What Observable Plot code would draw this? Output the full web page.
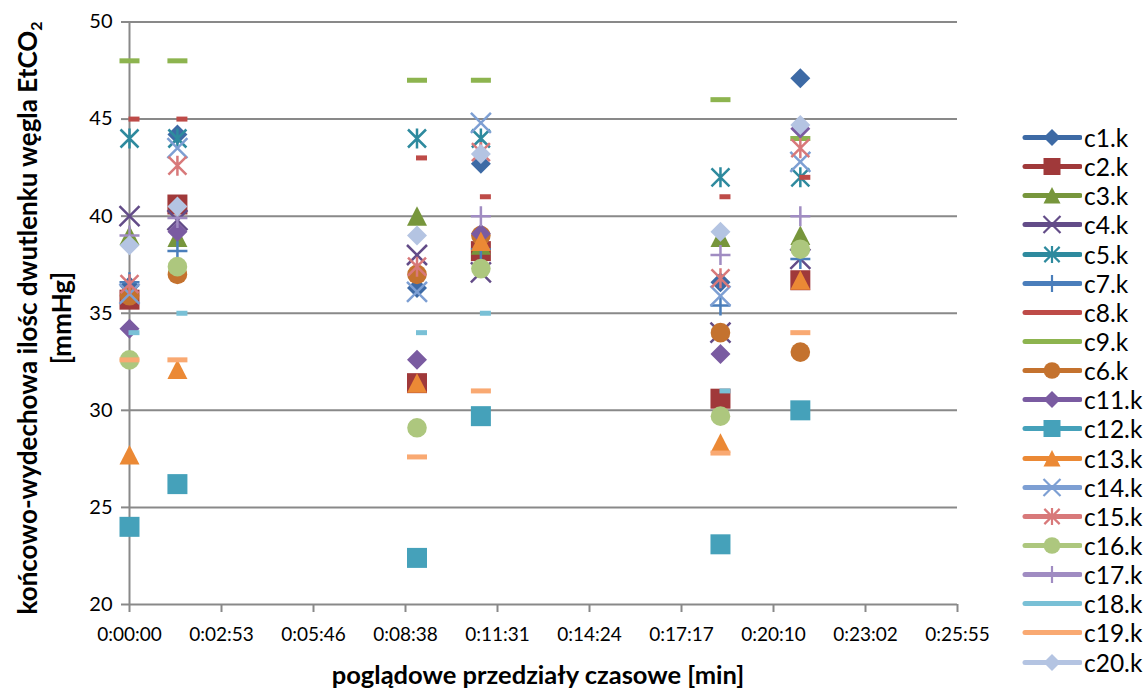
<!DOCTYPE html>
<html><head><meta charset="utf-8">
<script src="https://cdn.jsdelivr.net/npm/d3@7"></script>
<script src="https://cdn.jsdelivr.net/npm/@observablehq/plot@0.6"></script>
<style>
html,body{margin:0;padding:0;background:#fff;}
#wrap{position:relative;width:1144px;height:690px;overflow:hidden;font-family:Lato,"Open Sans",sans-serif;color:#000;}
#chart{position:absolute;left:0;top:0;}
#ytitle{position:absolute;left:44px;top:318px;transform:translate(-50%,-50%) rotate(-90deg);white-space:nowrap;text-align:center;font-weight:bold;font-size:26px;line-height:34px;}
#ytitle sub{font-size:16px;vertical-align:-5px;line-height:0;}
#xtitle{position:absolute;left:538px;top:660px;transform:translateX(-50%);white-space:nowrap;font-weight:bold;font-size:25.5px;line-height:28px;}
#legend{position:absolute;left:1022px;top:123px;}
.li{height:29.15px;display:flex;align-items:center;font-size:24.5px;}
.li svg{display:block;flex:none;}
.li span{margin-left:2px;}
</style></head>
<body><div id="wrap"><div id="chart"></div>
<div id="ytitle">końcowo-wydechowa ilośc dwutlenku węgla EtCO<sub>2</sub><br>[mmHg]</div>
<div id="xtitle">poglądowe przedziały czasowe [min]</div>
<div id="legend"></div></div>
<script>
// sample times (seconds from start)
const times = [0, 90, 540, 660, 1110, 1260];
const xTicks = [0, 172.8, 345.6, 518.4, 691.2, 864, 1036.8, 1209.6, 1382.4, 1555.2];
const xTickLabels = ["0:00:00","0:02:53","0:05:46","0:08:38","0:11:31","0:14:24","0:17:17","0:20:10","0:23:02","0:25:55"];
const yTicks = [20, 25, 30, 35, 40, 45, 50];

const seriesNames = ["c1.k","c2.k","c3.k","c4.k","c5.k","c7.k","c8.k","c9.k","c6.k","c11.k","c12.k","c13.k","c14.k","c15.k","c16.k","c17.k","c18.k","c19.k","c20.k"];
const c1  = [36.4, 44.2, 36.3, 42.7, 36.6, 47.1];
const c2  = [35.7, 40.6, 31.4, 38.2, 30.6, 36.7];
const c3  = [39.0, 38.9, 40.0, 38.5, 38.9, 39.0];
const c4  = [40.0, 39.8, 38.0, 37.1, 34.0, 37.8];
const c5  = [44.0, 44.0, 44.0, 44.0, 42.0, 42.0];
const c7  = [36.6, 38.2, null, 38.3, 35.4, 37.8];
const c8  = [45.0, 45.0, 43.0, 41.0, 41.0, 42.0];
const c9  = [48.0, 48.0, 47.0, 47.0, 46.0, 44.0];
const c6  = [35.9, 37.0, 37.0, 39.0, 34.0, 33.0];
const c11 = [34.2, 39.2, 32.6, 39.1, 32.9, 44.5];
const c12 = [24.0, 26.2, 22.4, 29.7, 23.1, 30.0];
const c13 = [27.7, 32.1, 31.4, 38.7, 28.3, 36.7];
const c14 = [36.0, 43.5, 36.1, 44.8, 35.9, 42.8];
const c15 = [36.5, 42.6, 37.4, 43.3, 36.8, 43.5];
const c16 = [32.6, 37.4, 29.1, 37.3, 29.7, 38.3];
const c17 = [39.0, 39.9, null, 40.0, 38.0, 40.0];
const c18 = [34.0, 35.0, 34.0, 35.0, 31.0, null];
const c19 = [32.6, 32.6, 27.6, 31.0, 27.8, 34.0];
const c20 = [38.5, 40.5, 39.0, 43.2, 39.2, 44.7];
const seriesValues = [c1,c2,c3,c4,c5,c7,c8,c9,c6,c11,c12,c13,c14,c15,c16,c17,c18,c19,c20];
const seriesColors = ["#3D6AA5","#A0393A","#77963C","#634C88","#2E8A9E","#4A7EBB","#BE4B48","#8DB44F","#C4722E","#7A5BA1","#45A1BA","#EB8935","#7D9FD3","#D8797A","#ADC77E","#A08CC2","#79C0D6","#F9A972","#B4C4E2"];
const seriesMarkers = ["diamond","square","triangle","x","star","plus","shortdash","dash","circle","diamond","square","triangle","x","star","circle","plus","shortdash","dash","diamond"];

const strokedKinds = new Set(["x","star","plus"]);
function makeSymbol(kind, s) {
  return {draw(ctx) {
    const h = 10 * s;
    switch (kind) {
      case "diamond": ctx.moveTo(0,-h); ctx.lineTo(h,0); ctx.lineTo(0,h); ctx.lineTo(-h,0); ctx.closePath(); break;
      case "square": ctx.rect(-h,-h,2*h,2*h); break;
      case "triangle": ctx.moveTo(0,-h); ctx.lineTo(h,h*0.95); ctx.lineTo(-h,h*0.95); ctx.closePath(); break;
      case "circle": ctx.moveTo(h*0.98,0); ctx.arc(0,0,h*0.98,0,2*Math.PI); break;
      case "x": ctx.moveTo(-h,-h); ctx.lineTo(h,h); ctx.moveTo(h,-h); ctx.lineTo(-h,h); break;
      case "star": { const a = h*0.9; ctx.moveTo(-a,-a); ctx.lineTo(a,a); ctx.moveTo(a,-a); ctx.lineTo(-a,a); ctx.moveTo(0,-h); ctx.lineTo(0,h); break; }
      case "plus": ctx.moveTo(-h,0); ctx.lineTo(h,0); ctx.moveTo(0,-h); ctx.lineTo(0,h); break;
      case "dash": ctx.rect(-h,-2.5*s,2*h,5*s); break;
      case "shortdash": ctx.rect(-1*s,-2.5*s,11*s,5*s); break;
    }
  }};
}

const tickLabel = new Map(xTicks.map((t,i)=>[t, xTickLabels[i]]));
const grey = "#898989";

const dotMarks = seriesValues.map((vals, k) => {
  const data = times.map((t,i)=>({t, v: vals[i]})).filter(d => d.v != null);
  const kind = seriesMarkers[k];
  const stroked = strokedKinds.has(kind);
  return Plot.dot(data, {
    x: "t", y: "v", r: 6,
    symbol: makeSymbol(kind, 1),
    fill: stroked ? "none" : seriesColors[k],
    stroke: stroked ? seriesColors[k] : "none",
    strokeWidth: stroked ? 2.5 : 0
  });
});

const chart = Plot.plot({
  width: 1144, height: 690,
  marginLeft: 129, marginRight: 187, marginTop: 21.5, marginBottom: 86,
  style: {fontFamily: "Lato, 'Open Sans', sans-serif", fontSize: "20px", color: "#000", background: "transparent"},
  x: {domain: [0, 1555.2]},
  y: {domain: [20, 50]},
  marks: [
    Plot.gridY(yTicks, {stroke: grey, strokeOpacity: 1, strokeWidth: 2}),
    Plot.ruleX([0], {stroke: grey, strokeWidth: 2}),
    Plot.axisY(yTicks, {tickSize: 8, tickPadding: 9, stroke: grey, strokeWidth: 2, label: null, tickFormat: d => String(d), fontSize: 20}),
    Plot.axisX(xTicks, {tickSize: 8, tickPadding: 15, stroke: grey, strokeWidth: 2, label: null, tickFormat: d => tickLabel.get(d), fontSize: 19}),
    ...dotMarks
  ]
});
document.getElementById("chart").appendChild(chart);

// legend
const legend = d3.select("#legend");
seriesNames.forEach((name, k) => {
  const row = legend.append("div").attr("class","li");
  const svg = row.append("svg").attr("width", 60).attr("height", 29);
  svg.append("line").attr("x1",3).attr("x2",58).attr("y1",14.5).attr("y2",14.5)
    .attr("stroke", seriesColors[k]).attr("stroke-width",5).attr("stroke-linecap","round");
  const kind = seriesMarkers[k];
  if (kind !== "dash" && kind !== "shortdash") {
    const stroked = strokedKinds.has(kind);
    const p = d3.path(); makeSymbol(kind, 0.85).draw(p);
    svg.append("path").attr("d", p.toString()).attr("transform","translate(30,14.5)")
      .attr("fill", stroked ? "none" : seriesColors[k])
      .attr("stroke", stroked ? seriesColors[k] : "none").attr("stroke-width", 2.2);
  }
  row.append("span").text(name);
});
</script></body></html>
